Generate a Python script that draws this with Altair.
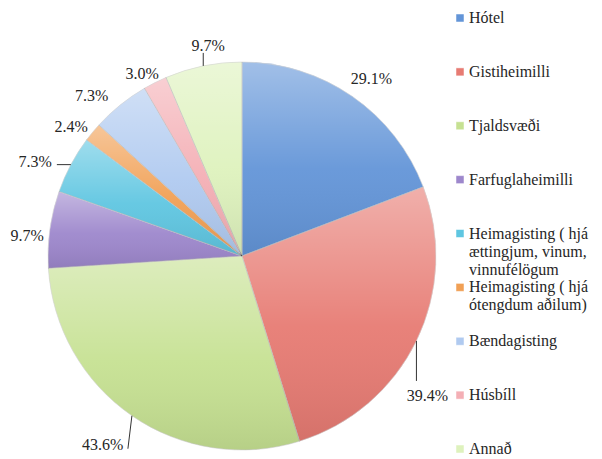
import altair as alt
import pandas as pd

# ---- data ----
categories = ["Hótel", "Gistiheimilli", "Tjaldsvæði", "Farfuglaheimilli",
              "Heimagisting ( hjá ættingjum, vinum, vinnufélögum",
              "Heimagisting ( hjá ótengdum aðilum)", "Bændagisting", "Húsbíll", "Annað"]
values = [29.1, 39.4, 43.6, 9.7, 7.3, 2.4, 7.3, 3.0, 9.7]
legend_labels = ["Hótel", "Gistiheimilli", "Tjaldsvæði", "Farfuglaheimilli",
                 "Heimagisting ( hjá\nættingjum, vinum,\nvinnufélögum",
                 "Heimagisting ( hjá\nótengdum aðilum)", "Bændagisting", "Húsbíll", "Annað"]
colors = ["#6395d8", "#e77b73", "#c6e192", "#9d87cc", "#5fc6e1",
          "#f1a055", "#b0caf0", "#f4afb5", "#def2bd"]

# ---- layout (pixels) ----
TOP = 4
CX, CY, R = 234, 248 - TOP, 194
LABEL_R = 214
label_nudge = [(8, -1), (-7, 46), (-18, 13), (-3, 9), (-18, 7), (-6, 7), (-16, 7), (-4, 9), (9, 0)]
leader = [(0, 0), (0, 40), (-4, 33), (0, 0), (-14, 0), (0, 0), (0, 0), (0, 0), (0, -13)]

df = pd.DataFrame({
    "cat": categories,
    "value": values,
    "idx": list(range(len(categories))),
    "legend": legend_labels,
    "nx": [n[0] for n in label_nudge],
    "ny": [n[1] for n in label_nudge],
    "ldx": [l[0] for l in leader],
    "ldy": [l[1] for l in leader],
})

FONT = "Liberation Serif"
TXT = "#262626"

color_scale = alt.Scale(domain=categories, range=colors)

base = alt.Chart(df)

pie = base.mark_arc(outerRadius=R, stroke="#ffffff", strokeWidth=0.8, strokeOpacity=0.7).encode(
    theta=alt.Theta("value:Q", stack=True),
    color=alt.Color("cat:N", scale=color_scale, legend=None),
    order=alt.Order("idx:Q"),
    x=alt.value(CX),
    y=alt.value(CY),
)

shade = base.mark_arc(
    outerRadius=R,
    fill=alt.Gradient(
        gradient="linear", x1=0, y1=0, x2=0, y2=1,
        stops=[alt.GradientStop(color="rgba(255,255,255,0.40)", offset=0),
               alt.GradientStop(color="rgba(255,255,255,0.05)", offset=0.55),
               alt.GradientStop(color="rgba(0,0,0,0.08)", offset=1)],
    ),
    stroke="rgba(0,0,0,0.18)", strokeWidth=0.6,
).encode(
    theta=alt.Theta("value:Q", stack=True),
    order=alt.Order("idx:Q"),
    x=alt.value(CX),
    y=alt.value(CY),
)

geo = base.transform_window(
    cum="sum(value)", sort=[alt.SortField("idx")], frame=[None, 0]
).transform_joinaggregate(
    total="sum(value)"
).transform_calculate(
    a="2*PI*(datum.cum - datum.value/2)/datum.total"
).transform_calculate(
    ex=f"{CX} + {R}*sin(datum.a)",
    ey=f"{CY} - {R}*cos(datum.a)",
    lx=f"{CX} + {LABEL_R}*sin(datum.a) + datum.nx",
    ly=f"{CY} - {LABEL_R}*cos(datum.a) + datum.ny",
    label="format(datum.value, '.1f') + '%'",
).transform_calculate(
    ex2="datum.ex + datum.ldx",
    ey2="datum.ey + datum.ldy",
)

labels = geo.mark_text(font=FONT, fontSize=16, color=TXT, align="center", baseline="middle").encode(
    x=alt.X("lx:Q", scale=None, axis=None),
    y=alt.Y("ly:Q", scale=None, axis=None),
    text="label:N",
)

lines = geo.transform_filter("datum.ldx != 0 || datum.ldy != 0").mark_rule(
    color="#333333", strokeWidth=1
).encode(
    x=alt.X("ex:Q", scale=None, axis=None),
    y=alt.Y("ey:Q", scale=None, axis=None),
    x2="ex2:Q",
    y2="ey2:Q",
)

legend_y = alt.Y("idx:Q", scale=alt.Scale(domain=[0, 8], range=[14 - 4 - TOP, 449 - 8 - TOP]), axis=None)

leg_sym = base.mark_square(size=64, opacity=1, stroke="#ffffff", strokeWidth=0.5).encode(
    x=alt.value(452),
    y=legend_y,
    color=alt.Color("cat:N", scale=color_scale, legend=None),
)

leg_txt = base.mark_text(font=FONT, fontSize=16, color=TXT, align="left", baseline="top",
                         dy=-8, lineBreak="\n", lineHeight=18).encode(
    x=alt.value(461),
    y=legend_y,
    text="legend:N",
)

chart = alt.layer(pie, shade, lines, labels, leg_sym, leg_txt).resolve_scale(
    x="independent", y="independent"
).properties(
    width=586, height=451 - TOP, autosize="none",
    padding={"left": 0, "top": TOP, "right": 0, "bottom": 0}
).configure(font=FONT).configure_text(font=FONT).configure_view(stroke=None)

chart.save("out.html", embed_options={"renderer": "svg", "actions": False})
